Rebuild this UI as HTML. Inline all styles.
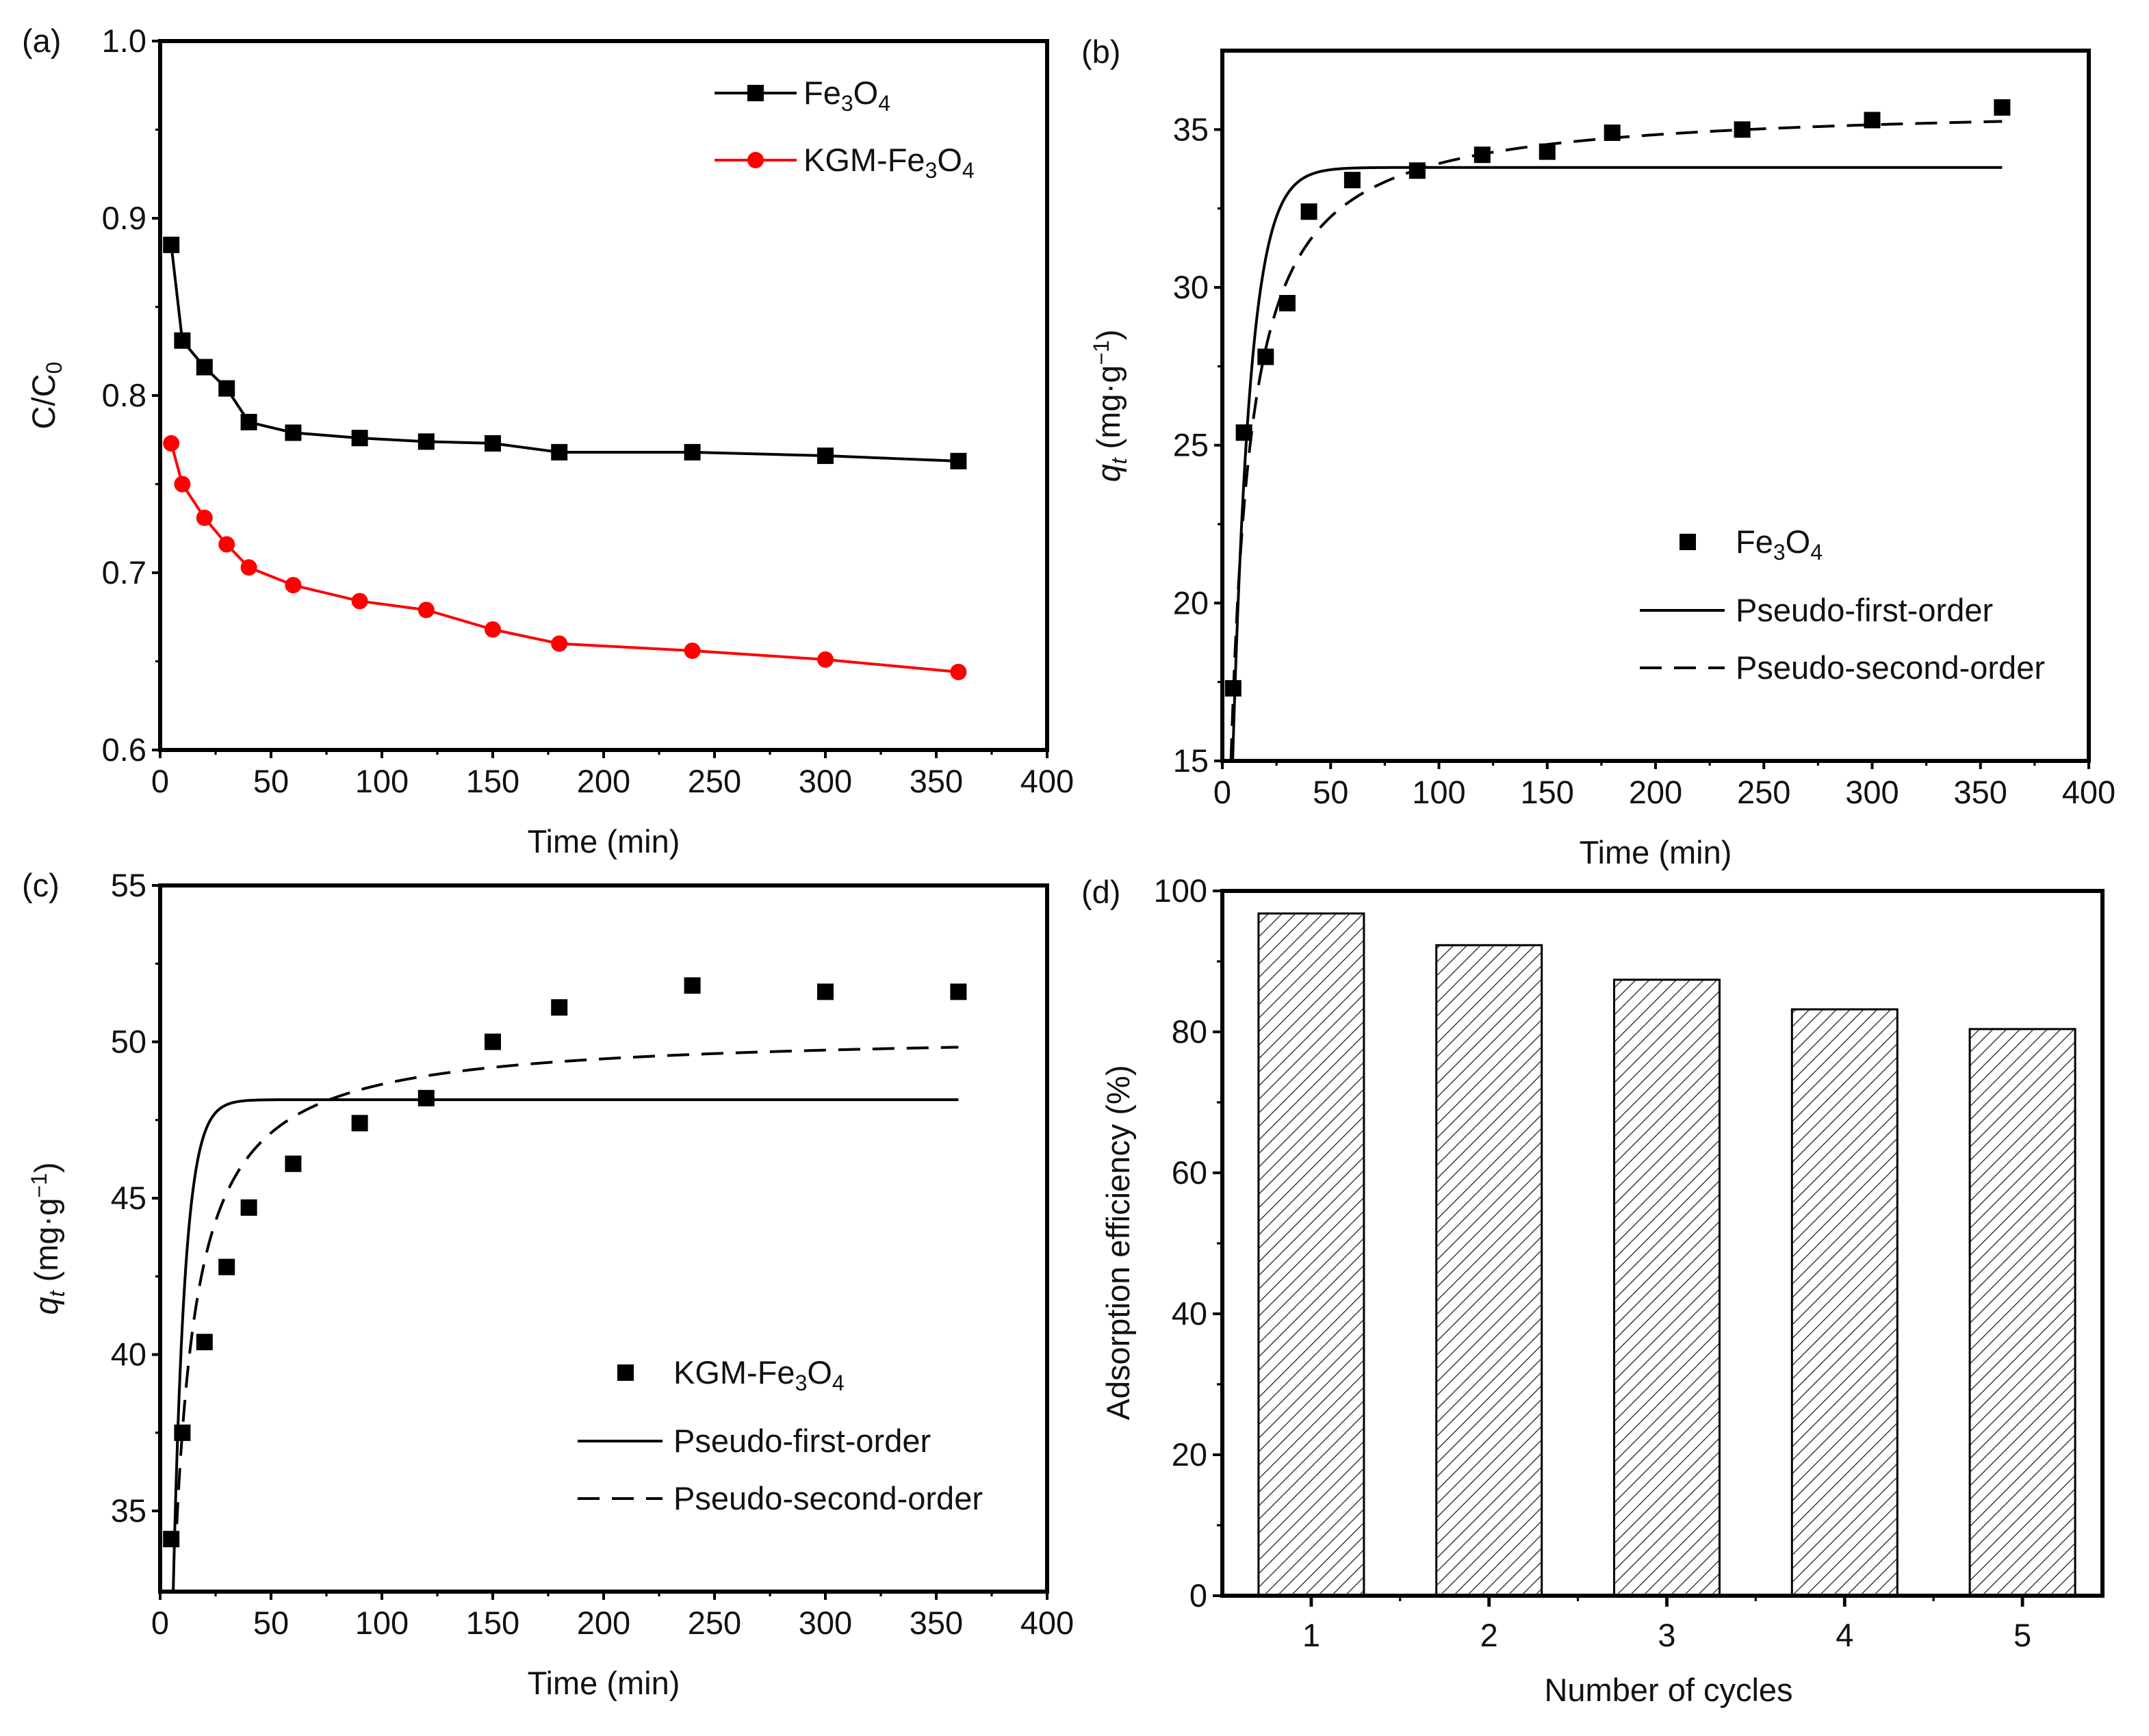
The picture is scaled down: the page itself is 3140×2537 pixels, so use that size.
<!DOCTYPE html>
<html><head><meta charset="utf-8"><style>
html,body{margin:0;padding:0;background:#fff}
svg{display:block}
text{font-family:"Liberation Sans",sans-serif;fill:#111}
</style></head><body>
<svg id="fig" width="3140" height="2537" viewBox="0 0 1570 1268.5" xmlns="http://www.w3.org/2000/svg">
<defs>
<pattern id="hatch" patternUnits="userSpaceOnUse" width="7" height="7" patternTransform="rotate(45)">
<line x1="0" y1="0" x2="0" y2="7" stroke="#222" stroke-width="1.3"/>
</pattern>
</defs>
</svg>
<script>
// ---- data ----
const timeA = [5,10,20,30,40,60,90,120,150,180,240,300,360];
const fe3o4A = [0.885,0.831,0.816,0.804,0.785,0.779,0.776,0.774,0.773,0.768,0.768,0.766,0.763];
const kgmA = [0.773,0.750,0.731,0.716,0.703,0.693,0.684,0.679,0.668,0.660,0.656,0.651,0.644];
const qtB = [17.3,25.4,27.8,29.5,32.4,33.4,33.7,34.2,34.3,34.9,35.0,35.3,35.7];
const qtC = [34.1,37.5,40.4,42.8,44.7,46.1,47.4,48.2,50.0,51.1,51.8,51.6,51.6];
const pfoB = {qe:33.8,k:0.123,t0:4};
const psoB = {qe:35.8,k:0.00505,t0:4};
const pfoC = {qe:48.15,k:0.19,t0:5.5};
const psoC = {qe:50.3,k:0.00583,t0:7.5};
const cycles = [1,2,3,4,5];
const efficiency = [96.8,92.3,87.4,83.2,80.4];
const xTicks = [0,50,100,150,200,250,300,350,400];
const yTicksA = [0.6,0.7,0.8,0.9,1.0];
const yTicksB = [15,20,25,30,35];
const yTicksC = [35,40,45,50,55];
const yTicksD = [0,20,40,60,80,100];

const NS="http://www.w3.org/2000/svg";
const svg=document.getElementById('fig');
const FS=23.5;
function el(tag,attrs,parent,text){const e=document.createElementNS(NS,tag);for(const k in attrs)e.setAttribute(k,attrs[k]);if(text!==undefined)e.textContent=text;(parent||svg).appendChild(e);return e;}
function lin(d0,d1,r0,r1){return v=>r0+(v-d0)*(r1-r0)/(d1-d0);}

function axesFrame(g,box,xs,ys,xt,yt,fmtY,name){
  const f=el('rect',{x:box.l,y:box.t,width:box.r-box.l,height:box.b-box.t,fill:'none',stroke:'#000','stroke-width':3},g);
  
  
  xt.forEach((v,i)=>{const x=xs(v);
    el('line',{x1:x,y1:box.b,x2:x,y2:box.b+6,stroke:'#000','stroke-width':2},g);
    if(i<xt.length-1){const xm=xs(v+(xt[1]-xt[0])/2);el('line',{x1:xm,y1:box.b,x2:xm,y2:box.b+3.5,stroke:'#000','stroke-width':1.6},g);}
    const t=el('text',{x:x,y:box.b+31,'text-anchor':'middle','font-size':FS},g,String(v));
    
    
  });
  yt.forEach((v,i)=>{const y=ys(v);
    el('line',{x1:box.l-6,y1:y,x2:box.l,y2:y,stroke:'#000','stroke-width':2},g);
    if(i<yt.length-1){const ym=ys(v+(yt[1]-yt[0])/2);el('line',{x1:box.l-3.5,y1:ym,x2:box.l,y2:ym,stroke:'#000','stroke-width':1.6},g);}
    const t=el('text',{x:box.l-10,y:y+8,'text-anchor':'end','font-size':FS},g,fmtY(v));
    
    
  });
}
function path(pts){return pts.map((p,i)=>(i?'L':'M')+p[0].toFixed(2)+','+p[1].toFixed(2)).join('');}
function curve(fn,t0,t1){const pts=[];for(let t=t0;t<=t1;t+=0.5)pts.push(t);return pts.map(t=>[t,fn(t)]);}

// ---------- Panel A ----------
{
const g=el('g',{});  
const box={l:117,r:765,t:30,b:548};
const xs=lin(0,400,box.l,box.r), ys=lin(0.6,1.0,box.b,box.t);
axesFrame(g,box,xs,ys,xTicks,yTicksA,v=>v.toFixed(1),'panel-a');
let t=el('text',{x:16,y:38,'font-size':FS},g,'(a)');  
t=el('text',{x:441,y:623,'text-anchor':'middle','font-size':FS},g,'Time (min)');  
t=el('text',{x:0,y:0,'text-anchor':'middle','font-size':FS,transform:'translate(40,289) rotate(-90)'},g); t.innerHTML='C/C<tspan font-size="16" dy="5">0</tspan>';
 
const s1=el('path',{d:path(timeA.map((x,i)=>[xs(x),ys(fe3o4A[i])])),fill:'none',stroke:'#000','stroke-width':2},g);
 
timeA.forEach((x,i)=>{const m=el('rect',{x:xs(x)-6,y:ys(fe3o4A[i])-6,width:12,height:12,fill:'#000'},g);
  });
const s2=el('path',{d:path(timeA.map((x,i)=>[xs(x),ys(kgmA[i])])),fill:'none',stroke:'#f00','stroke-width':2},g);
 
timeA.forEach((x,i)=>{const m=el('circle',{cx:xs(x),cy:ys(kgmA[i]),r:6,fill:'#f00'},g);
  });
// legend
el('line',{x1:522,y1:68,x2:582,y2:68,stroke:'#000','stroke-width':2},g);
el('rect',{x:546,y:62,width:12,height:12,fill:'#000'},g);
t=el('text',{x:587,y:76,'font-size':FS},g); t.innerHTML='Fe<tspan font-size="16" dy="5">3</tspan><tspan dy="-5">O</tspan><tspan font-size="16" dy="5">4</tspan>';
 
el('line',{x1:522,y1:117,x2:582,y2:117,stroke:'#f00','stroke-width':2},g);
el('circle',{cx:552,cy:117,r:6,fill:'#f00'},g);
t=el('text',{x:587,y:125,'font-size':FS},g); t.innerHTML='KGM-Fe<tspan font-size="16" dy="5">3</tspan><tspan dy="-5">O</tspan><tspan font-size="16" dy="5">4</tspan>';
 
}

function kineticPanel(name,label,box,ymin,ymax,yt,qt,pfo,pso,legendX,legendY,legendLabel,labelPos){
const g=el('g',{});  
const xs=lin(0,400,box.l,box.r), ys=lin(ymin,ymax,box.b,box.t);
axesFrame(g,box,xs,ys,xTicks,yt,v=>String(v),name);
let t=el('text',{x:labelPos[0],y:labelPos[1],'font-size':FS},g,label);  
t=el('text',{x:(box.l+box.r)/2,y:box.b+75,'text-anchor':'middle','font-size':FS},g,'Time (min)');  
t=el('text',{x:0,y:0,'text-anchor':'middle','font-size':FS,transform:'translate('+(box.l-75)+','+((box.t+box.b)/2)+') rotate(-90)'},g);
t.innerHTML='<tspan font-style="italic">q</tspan><tspan font-style="italic" font-size="16" dy="5">t</tspan><tspan dy="-5"> (mg·g</tspan><tspan font-size="16" dy="-8">−1</tspan><tspan dy="8">)</tspan>';
 
const clip=el('clipPath',{id:'clip-'+name},g); el('rect',{x:box.l,y:box.t,width:box.r-box.l,height:box.b-box.t},clip);
const f1=t=>pfo.qe*(1-Math.exp(-pfo.k*t));
const f2=t=>pso.qe*pso.qe*pso.k*t/(1+pso.qe*pso.k*t);
const l1=el('path',{d:path(curve(f1,pfo.t0,360).map(p=>[xs(p[0]),ys(p[1])])),fill:'none',stroke:'#000','stroke-width':2,'clip-path':'url(#clip-'+name+')'},g);
 
const l2=el('path',{d:path(curve(f2,pso.t0,360).map(p=>[xs(p[0]),ys(p[1])])),fill:'none',stroke:'#000','stroke-width':2,'stroke-dasharray':'16,9','clip-path':'url(#clip-'+name+')'},g);
 
timeA.forEach((x,i)=>{const m=el('rect',{x:xs(x)-6,y:ys(qt[i])-6,width:12,height:12,fill:'#000'},g);
  });
// legend
el('rect',{x:legendX+29,y:legendY-6,width:12,height:12,fill:'#000'},g);
t=el('text',{x:legendX+70,y:legendY+8,'font-size':FS},g); t.innerHTML=legendLabel+'Fe<tspan font-size="16" dy="5">3</tspan><tspan dy="-5">O</tspan><tspan font-size="16" dy="5">4</tspan>';
 
el('line',{x1:legendX,y1:legendY+50,x2:legendX+62,y2:legendY+50,stroke:'#000','stroke-width':2},g);
t=el('text',{x:legendX+70,y:legendY+58,'font-size':FS},g,'Pseudo-first-order');  
el('line',{x1:legendX,y1:legendY+92,x2:legendX+62,y2:legendY+92,stroke:'#000','stroke-width':2,'stroke-dasharray':'16,9'},g);
t=el('text',{x:legendX+70,y:legendY+100,'font-size':FS},g,'Pseudo-second-order');  
}
kineticPanel('panel-b','(b)',{l:893,r:1526,t:37,b:556},15,37.5,yTicksB,qtB,pfoB,psoB,1198,396,'',[790,46]);
kineticPanel('panel-c','(c)',{l:117,r:765,t:647,b:1163},32.42,55,yTicksC,qtC,pfoC,psoC,422,1003,'KGM-',[16,655]);

// ---------- Panel D ----------
{
const g=el('g',{});  
const box={l:893,r:1536,t:651,b:1166};
const xs=lin(0.5,5.45,box.l,box.r), ys=lin(0,100,box.b,box.t);
const bw=77;
cycles.forEach((c,i)=>{const b=el('rect',{x:xs(c)-bw/2,y:ys(efficiency[i]),width:bw,height:ys(0)-ys(efficiency[i]),fill:'url(#hatch)',stroke:'#000','stroke-width':1.5},g);
  });
el('rect',{x:box.l,y:box.t,width:box.r-box.l,height:box.b-box.t,fill:'none',stroke:'#000','stroke-width':3},g);
cycles.forEach((c,i)=>{const x=xs(c);
 el('line',{x1:x,y1:box.b,x2:x,y2:box.b+8,stroke:'#000','stroke-width':2.4},g);
 if(i<cycles.length-1) el('line',{x1:x+64.9,y1:box.b,x2:x+64.9,y2:box.b+4,stroke:'#000','stroke-width':1.6},g);
 const t=el('text',{x:x,y:box.b+37,'text-anchor':'middle','font-size':FS},g,String(c));
  });
yTicksD.forEach((v,i)=>{const y=ys(v);
 el('line',{x1:box.l-7,y1:y,x2:box.l,y2:y,stroke:'#000','stroke-width':2},g);
 if(i<yTicksD.length-1){const ym=ys(v+10);el('line',{x1:box.l-4,y1:ym,x2:box.l,y2:ym,stroke:'#000','stroke-width':1.6},g);}
 const t=el('text',{x:box.l-11,y:y+8,'text-anchor':'end','font-size':FS},g,String(v));
  });
let t=el('text',{x:790,y:660,'font-size':FS},g,'(d)');  
t=el('text',{x:1219,y:1243,'text-anchor':'middle','font-size':FS},g,'Number of cycles');  
t=el('text',{x:0,y:0,'text-anchor':'middle','font-size':FS,transform:'translate(825,908) rotate(-90)'},g,'Adsorption efficiency (%)');
 
}
</script>
</body></html>
